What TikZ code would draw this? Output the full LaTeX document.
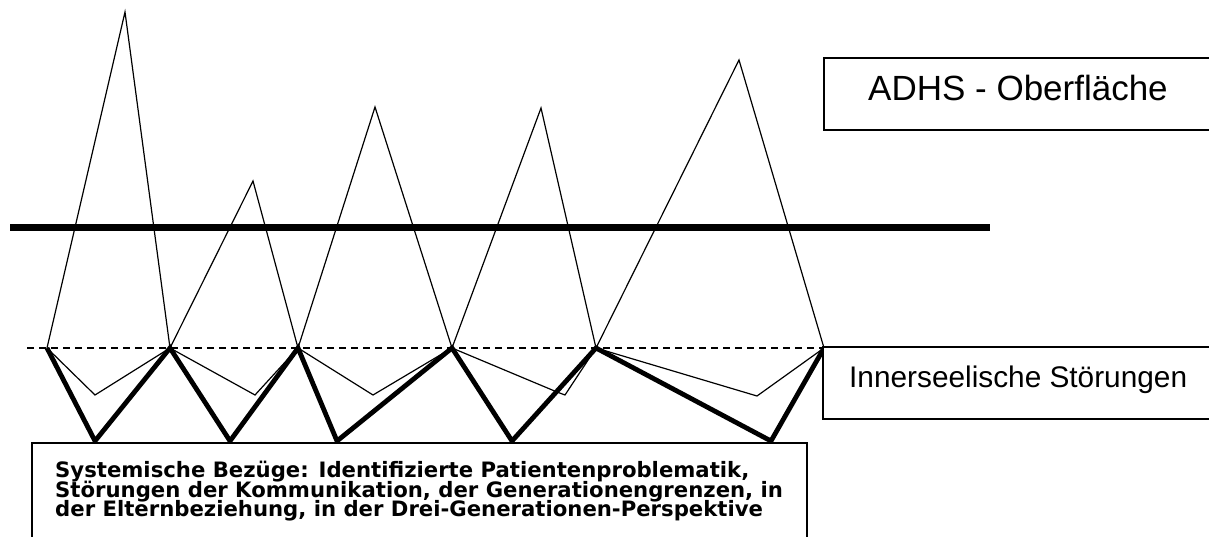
\documentclass[tikz,border=0pt]{standalone}
\usepackage{fontspec}
\setmainfont{Liberation Sans}
\newfontfamily\verdfont{DejaVu Sans}
\begin{document}
\begin{tikzpicture}[x=1pt,y=-1pt,
  thinline/.style={line width=1.2pt, line join=miter},
  thickline/.style={line width=4.8pt, line join=miter},
  barline/.style={line width=7pt},
  baseline/.style={line width=1.2pt, dash pattern=on 7pt off 5pt},
  labelbox/.style={draw=black, line width=1.4pt, fill=white},
  bigtext/.style={anchor=base west, inner sep=0pt, font=\fontsize{35}{40}\selectfont},
  midtext/.style={anchor=base west, inner sep=0pt, font=\fontsize{29.8}{34}\selectfont},
  systext/.style={anchor=base west, inner sep=0pt, font=\verdfont\bfseries\fontsize{21.2}{20}\selectfont}
]
\useasboundingbox (0,0) rectangle (1209,537);
\clip (0,0) rectangle (1209,537);
% base points on dashed line
\coordinate (b0) at (47,348);
\coordinate (b1) at (170,348);
\coordinate (b2) at (298,348);
\coordinate (b3) at (452,348);
\coordinate (b4) at (596,348);
\coordinate (b5) at (824,348);
% peaks
\coordinate (p1) at (125,12);
\coordinate (p2) at (253,181);
\coordinate (p3) at (375,107);
\coordinate (p4) at (541,108);
\coordinate (p5) at (739,60);
% shallow valleys
\coordinate (v1) at (95,395);
\coordinate (v2) at (255,395);
\coordinate (v3) at (373,395);
\coordinate (v4a) at (557,392);
\coordinate (v4) at (565,395);
\coordinate (v5) at (757,396);
% deep valleys
\coordinate (d1) at (95,441);
\coordinate (d2) at (230,441);
\coordinate (d3) at (337,441);
\coordinate (d4) at (512,441);
\coordinate (d5) at (771,441);
% dashed line
\coordinate (dl) at (27,348);
\draw[baseline] (dl) -- (b5);
% peaks polyline
\draw[thinline] (b0) -- (p1) -- (b1) -- (p2) -- (b2) -- (p3) -- (b3) -- (p4) -- (b4) -- (p5) -- (b5);
% thick horizontal bar
\coordinate (hl) at (10,228);
\coordinate (hr) at (990,228);
\draw[barline] (hl) -- (hr);
% shallow valleys
\draw[thinline] (b0) -- (v1) -- (b1) -- (v2) -- (b2) -- (v3) -- (b3) -- (v4a) -- (v4) -- (b4) -- (v5) -- (b5);
% deep valleys
\draw[thickline] (b0) -- (d1) -- (b1) -- (d2) -- (b2) -- (d3) -- (b3) -- (d4) -- (b4) -- (d5) -- (b5);
% boxes
\draw[labelbox] (824,58) rectangle (1220,130);
\node[bigtext] (adhs) at (868,101) {ADHS - Oberfläche};
\draw[labelbox] (823,347) rectangle (1220,419);
\node[midtext] (inner) at (849,387) {Innerseelische Störungen};
\draw[labelbox] (32,443) rectangle (807,560);
\node[systext] (s1) at (55,477) {Systemische Bezüge: Identifizierte Patientenproblematik,};
\node[systext] (s2) at (55,497) {Störungen der Kommunikation, der Generationengrenzen, in};
\node[systext] (s3) at (55,516) {der Elternbeziehung, in der Drei-Generationen-Perspektive};
\end{tikzpicture}
\end{document}
